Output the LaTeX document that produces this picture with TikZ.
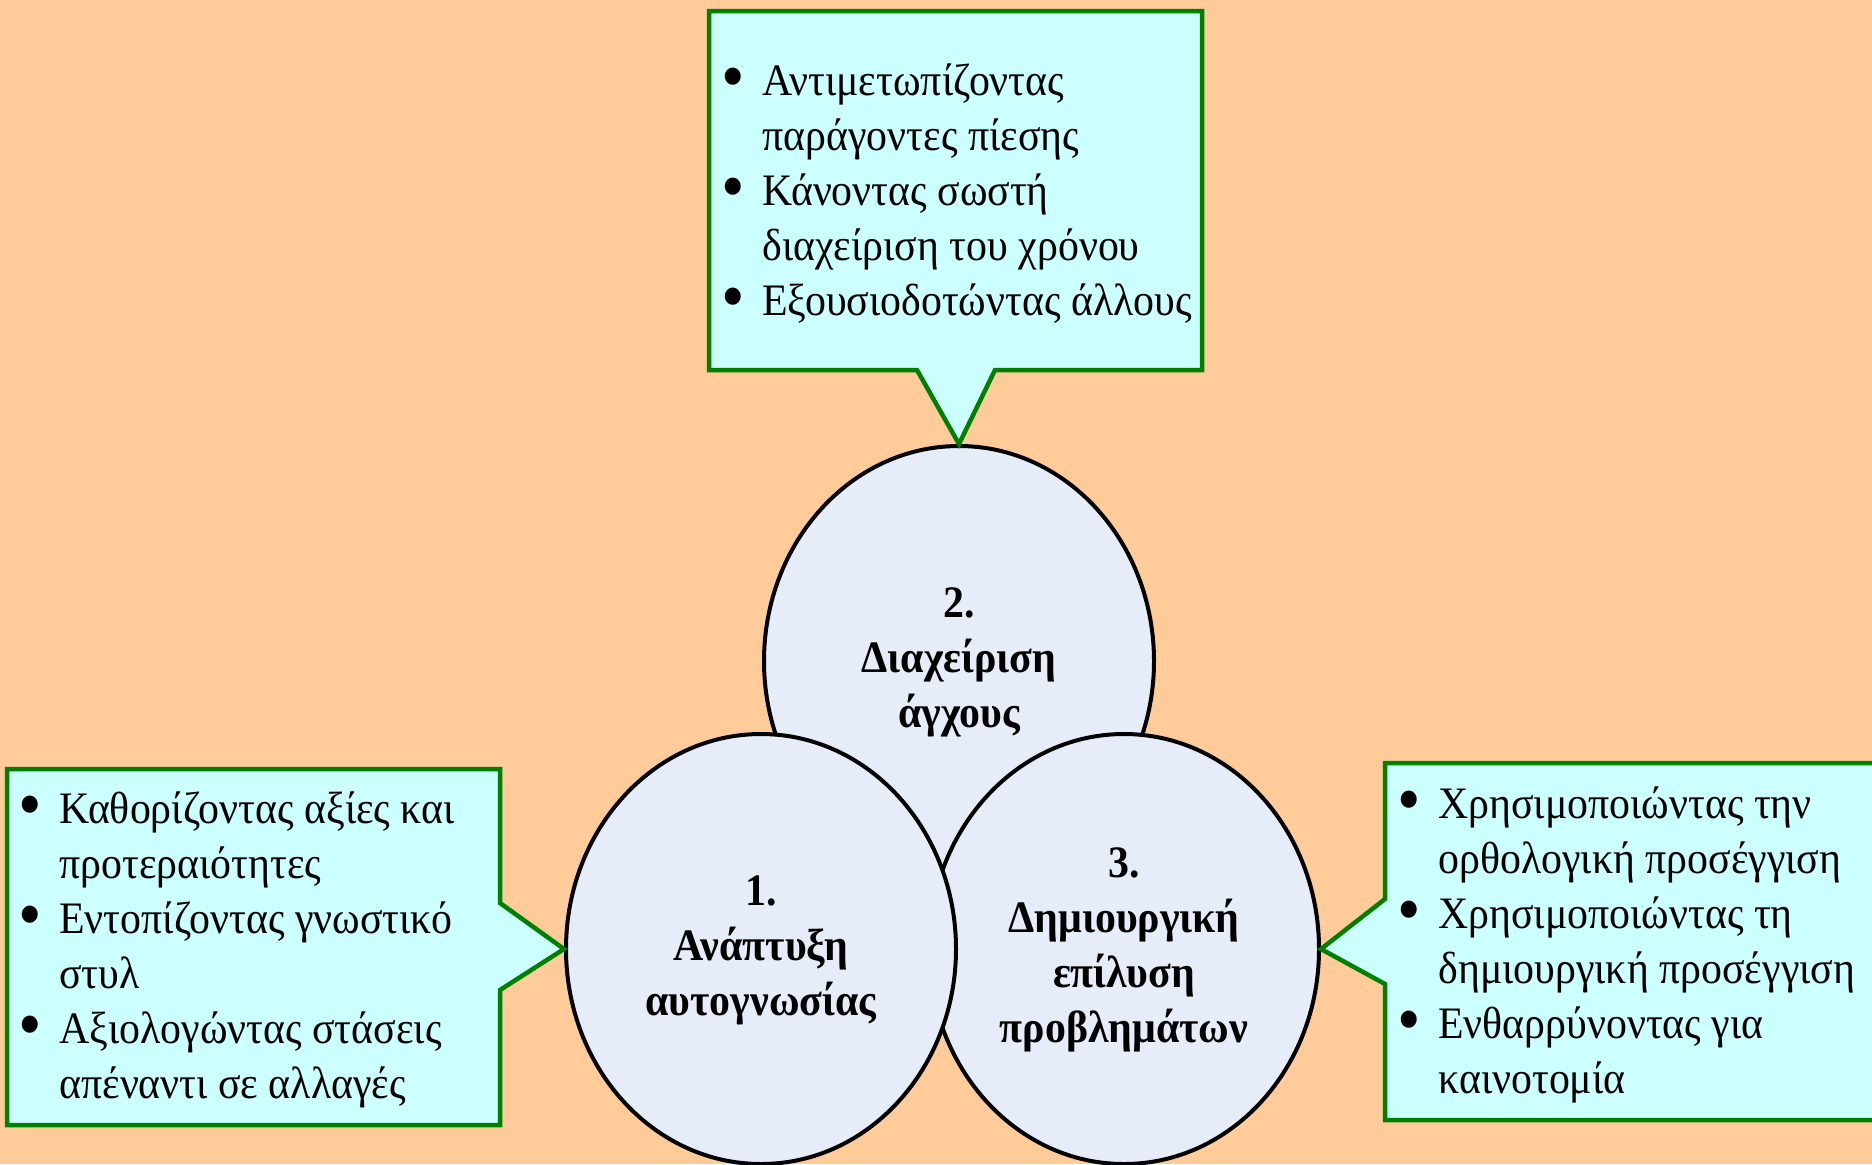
\documentclass[tikz,border=0pt]{standalone}
\usepackage{graphicx}
\usepackage{fontspec}
\setmainfont{Liberation Serif}[FakeStretch=0.93]
\usetikzlibrary{shapes.geometric}
\definecolor{bgpeach}{RGB}{255,204,153}
\definecolor{boxcyan}{RGB}{204,255,255}
\definecolor{boxgreen}{RGB}{0,128,0}
\definecolor{ovalfill}{RGB}{231,237,248}
\newcommand{\bul}{\makebox[20.5pt][l]{\raisebox{-0.11em}{\scalebox{1.6}{•}}}}
\newcommand{\ind}{\hspace*{20.5pt}}
\begin{document}
\begin{tikzpicture}[x=0.5pt,y=-0.5pt,
  oval/.style={ellipse, draw=black, line width=2pt, fill=ovalfill,
    minimum width=195pt, minimum height=215pt, inner sep=0pt, align=center,
    font=\fontsize{22.5}{27.5}\selectfont\bfseries},
  callout/.style={draw=boxgreen, line width=2.25pt, fill=boxcyan, line join=miter},
  listtext/.style={anchor=north west, inner sep=0pt, align=left,
    font=\fontsize{22.5}{27.5}\selectfont}]
\clip (0,0) rectangle (1872,1164);
\fill[bgpeach] (0,0) rectangle (1872,1164);
% ovals (2 behind, then 3, then 1 on top)
\node[oval] (c2) at (959,661) {\strut 2.\\Διαχείριση\\άγχους\strut};
\node[oval] (c3) at (1124,949) {\strut 3.\\Δημιουργική\\επίλυση\\προβλημάτων\strut};
\node[oval] (c1) at (761,949) {\strut 1.\\Ανάπτυξη\\αυτογνωσίας\strut};
% callouts
\draw[callout] (709,11) -- (1202,11) -- (1202,370) -- (995,370) -- (c2.north)
  -- (917,370) -- (709,370) -- cycle;
\draw[callout] (7,769) -- (500,769) -- (500,903) -- (c1.west) -- (500,990)
  -- (500,1125) -- (7,1125) -- cycle;
\draw[callout] (1385,763) -- (1885,763) -- (1885,1120) -- (1385,1120)
  -- (1385,984) -- (c3.east) -- (1385,899) -- cycle;
% list texts
\node[listtext] (t2) at (721,56.5) {\strut\bul Αντιμετωπίζοντας\\
  \ind παράγοντες πίεσης\\
  \bul Κάνοντας σωστή\\
  \ind διαχείριση του χρόνου\\
  \bul Εξουσιοδοτώντας άλλους};
\node[listtext] (t1) at (18,784.5) {\strut\bul Καθορίζοντας αξίες και\\
  \ind προτεραιότητες\\
  \bul Εντοπίζοντας γνωστικό\\
  \ind στυλ\\
  \bul Αξιολογώντας στάσεις\\
  \ind απέναντι σε αλλαγές};
\node[listtext] (t3) at (1397,779.5) {\strut\bul Χρησιμοποιώντας την\\
  \ind ορθολογική προσέγγιση\\
  \bul Χρησιμοποιώντας τη\\
  \ind δημιουργική προσέγγιση\\
  \bul Ενθαρρύνοντας για\\
  \ind καινοτομία};
\end{tikzpicture}
\end{document}
